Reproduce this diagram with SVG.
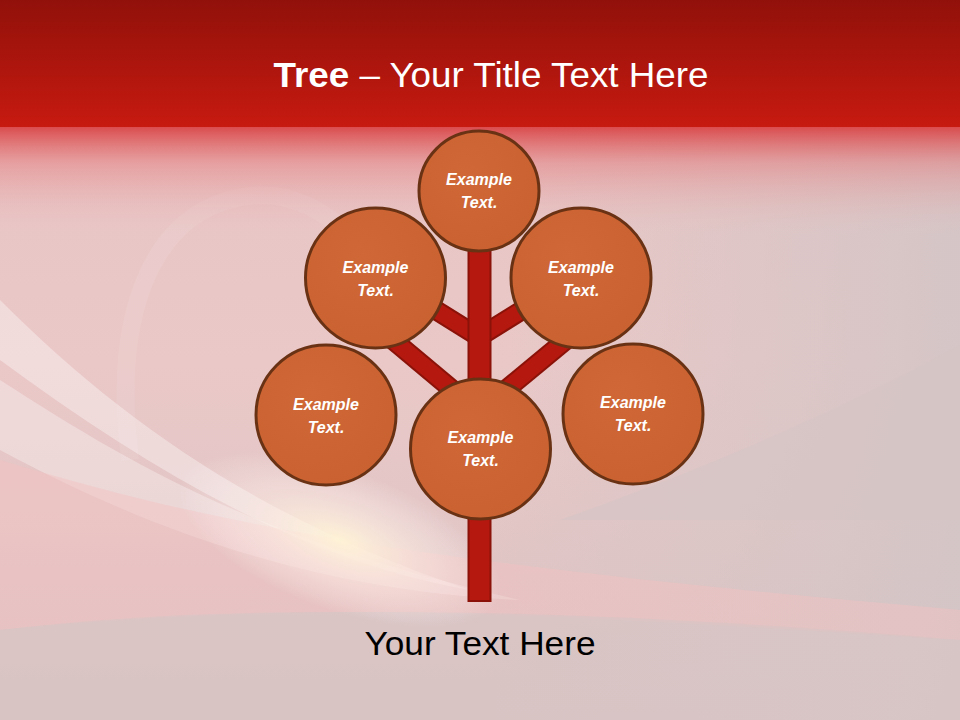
<svg xmlns="http://www.w3.org/2000/svg" width="960" height="720" viewBox="0 0 960 720">
<defs>
<linearGradient id="bg" x1="0" y1="0" x2="0" y2="1">
<stop offset="0" stop-color="#e6c3c3"/>
<stop offset="0.5" stop-color="#ebc8c8"/>
<stop offset="1" stop-color="#d9c3c3"/>
</linearGradient>
<linearGradient id="hdr" x1="0" y1="0" x2="0" y2="1">
<stop offset="0" stop-color="#91110a"/>
<stop offset="1" stop-color="#c71a10"/>
</linearGradient>
<linearGradient id="fade" x1="0" y1="0" x2="0" y2="1">
<stop offset="0" stop-color="#d8383a" stop-opacity="0.9"/>
<stop offset="0.35" stop-color="#e47a7c" stop-opacity="0.5"/>
<stop offset="1" stop-color="#e8c0c0" stop-opacity="0"/>
</linearGradient>
<linearGradient id="rightgray" x1="0" y1="0" x2="1" y2="0">
<stop offset="0" stop-color="#d6c6c6" stop-opacity="0"/>
<stop offset="1" stop-color="#d3c5c6" stop-opacity="0.9"/>
</linearGradient>
<radialGradient id="glow" cx="0.5" cy="0.5" r="0.5">
<stop offset="0" stop-color="#fff4d6" stop-opacity="0.95"/>
<stop offset="0.5" stop-color="#fff0e6" stop-opacity="0.5"/>
<stop offset="1" stop-color="#ffffff" stop-opacity="0"/>
</radialGradient>
<radialGradient id="cfill" cx="0.4" cy="0.35" r="0.7">
<stop offset="0" stop-color="#cf6836"/>
<stop offset="1" stop-color="#c96230"/>
</radialGradient>
<style>
.node circle{fill:url(#cfill);stroke:#6a3214;stroke-width:3}
.node text{font-family:"Liberation Sans",Arial,sans-serif;font-size:16px;font-weight:bold;font-style:italic;fill:#ffffff;text-anchor:middle}
.br-o{stroke:#8a1208;stroke-width:20;fill:none}
.br-i{stroke:#b4180f;stroke-width:16;fill:none}
</style>
</defs>

<!-- background -->
<rect x="0" y="0" width="960" height="720" fill="url(#bg)"/>
<rect x="480" y="130" width="480" height="590" fill="url(#rightgray)"/>
<path d="M960,345 C820,420 700,470 560,520 L960,520 Z" fill="#d6c4c5" opacity="0.7"/>
<path d="M0,300 C120,420 260,520 470,590 C300,560 150,470 0,360 Z" fill="#ffffff" opacity="0.35"/>
<path d="M0,380 C140,470 260,540 520,600 C300,590 130,520 0,450 Z" fill="#ffffff" opacity="0.3"/>
<path d="M0,460 C200,520 380,560 960,610 L960,640 C500,610 250,600 0,630 Z" fill="#f3c2c2" opacity="0.45"/>
<path d="M0,630 C300,600 600,610 960,640 L960,720 L0,720 Z" fill="#d8c4c4" opacity="0.7"/>
<path d="M130,460 C110,300 160,200 260,195 C330,195 380,260 420,330" fill="none" stroke="#ffffff" stroke-width="18" opacity="0.07"/>
<ellipse cx="340" cy="540" rx="170" ry="70" fill="url(#glow)" transform="rotate(20 340 540)"/>
<rect x="0" y="125" width="960" height="110" fill="url(#fade)"/>
<rect x="0" y="0" width="960" height="127" fill="url(#hdr)"/>

<!-- title -->
<text x="491" y="87" text-anchor="middle" textLength="435" lengthAdjust="spacingAndGlyphs" font-family="'Liberation Sans',Arial,sans-serif" font-size="35" fill="#ffffff"><tspan font-weight="bold">Tree</tspan> – Your Title Text Here</text>

<!-- connectors -->
<g id="connectors">
<line class="br-o" x1="479" y1="337" x2="418" y2="299"/>
<line class="br-o" x1="479" y1="337" x2="540" y2="299"/>
<line class="br-o" x1="479" y1="412" x2="393" y2="340"/>
<line class="br-o" x1="479" y1="412" x2="566" y2="340"/>
<line class="br-i" x1="479" y1="337" x2="418" y2="299"/>
<line class="br-i" x1="479" y1="337" x2="540" y2="299"/>
<line class="br-i" x1="479" y1="412" x2="393" y2="340"/>
<line class="br-i" x1="479" y1="412" x2="566" y2="340"/>
<rect x="468.5" y="240" width="22" height="361" fill="#b4180f" stroke="#8a1208" stroke-width="2"/>
</g>

<!-- nodes -->
<g id="node-top" class="node"><circle cx="479" cy="191" r="60"/><text x="479" y="185">Example</text><text x="479" y="208">Text.</text></g>
<g id="node-upper-left" class="node"><circle cx="375.5" cy="278" r="70"/><text x="375.5" y="273">Example</text><text x="375.5" y="296">Text.</text></g>
<g id="node-upper-right" class="node"><circle cx="581" cy="278" r="70"/><text x="581" y="273">Example</text><text x="581" y="296">Text.</text></g>
<g id="node-lower-left" class="node"><circle cx="326" cy="415" r="70"/><text x="326" y="410">Example</text><text x="326" y="433">Text.</text></g>
<g id="node-lower-center" class="node"><circle cx="480.5" cy="449" r="70"/><text x="480.5" y="443">Example</text><text x="480.5" y="466">Text.</text></g>
<g id="node-lower-right" class="node"><circle cx="633" cy="414" r="70"/><text x="633" y="408">Example</text><text x="633" y="431">Text.</text></g>

<!-- bottom text -->
<text x="480" y="655" text-anchor="middle" textLength="231" lengthAdjust="spacingAndGlyphs" font-family="'Liberation Sans',Arial,sans-serif" font-size="33" fill="#000000">Your Text Here</text>
</svg>
